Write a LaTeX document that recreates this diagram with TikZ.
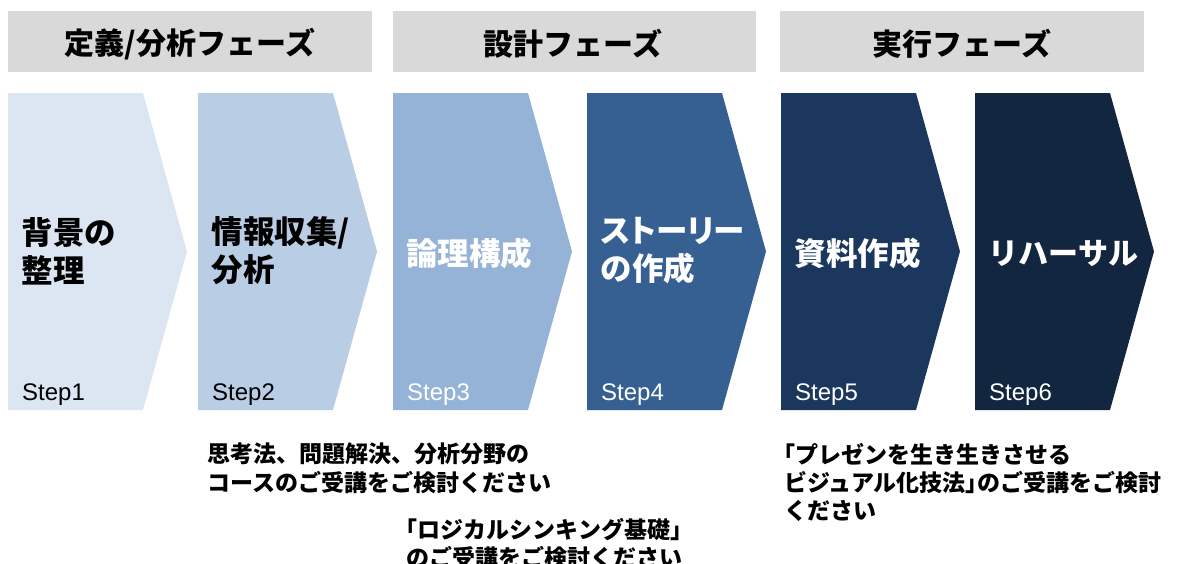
\documentclass[tikz,border=0pt]{standalone}
\usepackage{fontspec}
\newfontfamily\jp{Noto Sans CJK JP}
\newfontfamily\jpp{Noto Sans CJK JP}[RawFeature=+palt]
\newfontfamily\stepfont{Liberation Sans}
\definecolor{hdr}{HTML}{D9D9D9}
\definecolor{cA}{HTML}{DCE6F2}
\definecolor{cB}{HTML}{B9CDE5}
\definecolor{cC}{HTML}{95B3D7}
\definecolor{cD}{HTML}{376092}
\definecolor{cE}{HTML}{1B375E}
\definecolor{cF}{HTML}{13263F}
\tikzset{
  hdrtext/.style={inner sep=0pt, font=\jp\bfseries\fontsize{30}{34}\selectfont, text=black},
  titletext/.style={inner sep=0pt, anchor=west, align=left, font=\jp\bfseries\fontsize{31.5}{38}\selectfont},
  steptext/.style={inner sep=0pt, anchor=base west, font=\stepfont\fontsize{24}{28}\selectfont},
  notetext/.style={inner sep=0pt, anchor=north west, align=left, font=\jp\bfseries\fontsize{23}{28.5}\selectfont, text=black},
}
\newcommand{\chev}[2]{\fill[#2] (#1,93) -- ({#1+135},93) -- ({#1+179},251.5) -- ({#1+135},410) -- (#1,410) -- cycle;}
\begin{document}
\begin{tikzpicture}[x=1pt,y=-1pt]
\clip (0,0) rectangle (1182,563);
\useasboundingbox (0,0) rectangle (1182,563);
% header bars
\fill[hdr] (8,11) rectangle (372,72);
\fill[hdr] (393,11) rectangle (756,72);
\fill[hdr] (780,11) rectangle (1144,72);
\node[hdrtext] (h1) at (190,44) {定義/分析フェーズ};
\node[hdrtext] (h2) at (573,44) {設計フェーズ};
\node[hdrtext] (h3) at (962,44) {実行フェーズ};
% chevrons
\chev{8}{cA}
\chev{198}{cB}
\chev{393}{cC}
\chev{587}{cD}
\chev{781}{cE}
\chev{975}{cF}
% titles
\node[titletext, text=black] (t1) at (21.5,251) {背景の\\整理};
\node[titletext, text=black] (t2) at (211.5,251) {情報収集/\\分析};
\node[titletext, text=white] (t3) at (406,253) {論理構成};
\node[titletext, text=white] (t4) at (600.5,251) {{\jpp ストーリー}\\の作成};
\node[titletext, text=white] (t5) at (794.5,253) {資料作成};
\node[titletext, text=white, font=\jp\bfseries\fontsize{30}{38}\selectfont] (t6) at (988.5,253) {リハーサル};
% steps
\node[steptext, text=black] (s1) at (22,400) {Step1};
\node[steptext, text=black] (s2) at (212,400) {Step2};
\node[steptext, text=white] (s3) at (407,400) {Step3};
\node[steptext, text=white] (s4) at (601,400) {Step4};
\node[steptext, text=white] (s5) at (795,400) {Step5};
\node[steptext, text=white] (s6) at (989,400) {Step6};
% notes
\node[notetext] (n1) at (207,443) {思考法、問題解決、分析分野の\\コースのご受講をご検討ください};
\node[notetext] (n2) at (406,518) {\hspace*{-0.5em}「ロジカルシンキング基礎」\\のご受講をご検討ください};
\node[notetext, font=\jp\bfseries\fontsize{23}{28}\selectfont] (n3) at (784,443) {\hspace*{-0.5em}「プレゼンを生き生きさせる\\ビジュアル化技法\hbox to 0.5em{」\hss}のご受講をご検討\\ください};
\end{tikzpicture}
\end{document}
